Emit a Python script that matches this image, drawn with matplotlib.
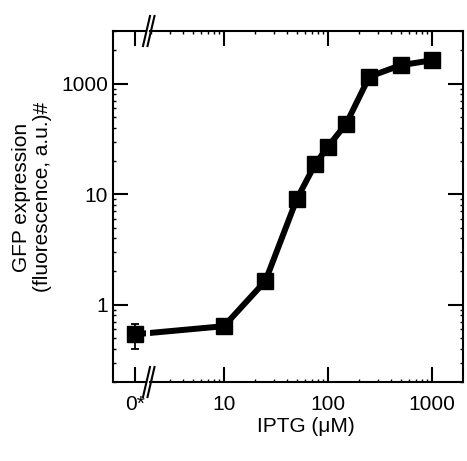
import numpy as np
import matplotlib
matplotlib.use("Agg")
import matplotlib.pyplot as plt
from matplotlib.ticker import FixedLocator, NullFormatter, LogLocator
from matplotlib.lines import Line2D

plt.rcParams['font.family'] = ['Liberation Sans', 'DejaVu Sans']
plt.rcParams['font.size'] = 15

# data
iptg = [0, 10, 25, 50, 75, 100, 150, 250, 500, 1000]
gfp = [0.54, 0.64, 1.64, 9.0, 18.6, 27, 43.6, 116, 147, 163]
zero_err = [[0.14], [0.13]]  # lower, upper for the 0* point

y_ticks = [1, 10, 100]
y_ticklabels = ["1", "10", "1000"]
x_ticks = [10, 100, 1000]
x_ticklabels = ["10", "100", "1000"]

W, H = 467, 461
fig = plt.figure(figsize=(W / 100, H / 100), dpi=100)

def fx(px):
    return px / W

def fy(px):
    return 1 - px / H

bot, top = fy(382), fy(31)
ax_l = fig.add_axes([fx(113), bot, fx(146) - fx(113), top - bot])
ax_r = fig.add_axes([fx(150), bot, fx(463) - fx(150), top - bot], sharey=ax_l)

ax_r.set_xscale('log')
ax_l.set_yscale('log')
ax_l.set_ylim(0.2, 300)
ax_l.set_xlim(-1, 0.5)
ax_r.set_xlim(1.943, 1987)

lw = 4.3
ms = 12

# line from 0* point, clipped at the break on both sides
x10_l, y10_l = ax_l.transData.inverted().transform(ax_r.transData.transform((iptg[1], gfp[1])))
x0_r, _ = ax_r.transData.inverted().transform(ax_l.transData.transform((iptg[0], gfp[0])))

ax_l.plot([iptg[0], x10_l], [gfp[0], y10_l], color='black', lw=lw)
ax_l.errorbar(iptg[:1], gfp[:1], yerr=zero_err, fmt='s', color='black', ms=ms,
              elinewidth=1.3, capsize=3, capthick=1.3)
ax_r.plot([x0_r] + iptg[1:], [gfp[0]] + gfp[1:], color='black', lw=lw)
ax_r.plot(iptg[1:], gfp[1:], 's', color='black', ms=ms)

for ax in (ax_l, ax_r):
    for s in ax.spines.values():
        s.set_linewidth(1.5)
    ax.tick_params(which='major', direction='in', length=11, width=1.5,
                   top=True, labelsize=15)
    ax.tick_params(which='minor', direction='in', length=2.5, width=1, top=True)
    ax.tick_params(axis='x', pad=9)

ax_l.spines['right'].set_visible(False)
ax_r.spines['left'].set_visible(False)

ax_l.yaxis.set_major_locator(FixedLocator(y_ticks))
ax_l.set_yticklabels(y_ticklabels)
ax_l.yaxis.set_minor_locator(LogLocator(base=10, subs=np.arange(2, 10)))
ax_l.yaxis.set_minor_formatter(NullFormatter())
ax_l.tick_params(axis='y', which='both', left=True, right=False, pad=3.5)
ax_r.tick_params(axis='y', which='both', left=False, right=True, labelleft=False)

ax_l.set_xticks([0])
ax_l.set_xticklabels(["0*"])
ax_l.xaxis.set_minor_locator(FixedLocator([]))

ax_r.xaxis.set_major_locator(FixedLocator(x_ticks))
ax_r.set_xticklabels(x_ticklabels)
ax_r.xaxis.set_minor_locator(LogLocator(base=10, subs=np.arange(2, 10)))
ax_r.xaxis.set_minor_formatter(NullFormatter())

# break marks
for yc, h in ((382, 15), (31, 15)):
    for x0 in (143, 147.5):
        fig.add_artist(Line2D([fx(x0), fx(x0 + 7)], [fy(yc + h), fy(yc - h)],
                              color='black', lw=1.5, transform=fig.transFigure))

ax_r.set_xlabel("IPTG (μM)", fontsize=15)
ax_r.xaxis.set_label_coords(fx(306), fy(417), transform=fig.transFigure)
ax_r.xaxis.label.set_va('top')
ax_l.set_ylabel("GFP expression\n(fluorescence, a.u.)#", fontsize=15, linespacing=1.1)
ax_l.yaxis.set_label_coords(fx(52), fy(197), transform=fig.transFigure)

fig.savefig("out.png", dpi=100)
